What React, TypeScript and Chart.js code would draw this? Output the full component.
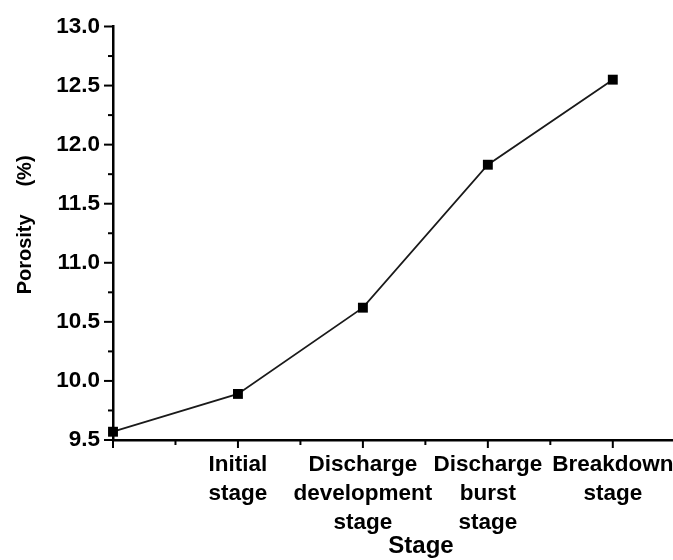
import React, { useEffect, useRef } from "react";
import { Chart, registerables } from "chart.js";

Chart.register(...registerables);

// ---- data ----
const stageIndex = [0, 1, 2, 3, 4];
const stageLabels: string[][] = [
  [""],
  ["Initial", "stage"],
  ["Discharge", "development", "stage"],
  ["Discharge", "burst", "stage"],
  ["Breakdown", "stage"],
];
const porosity = [9.57, 9.89, 10.62, 11.83, 12.55];
const yMin = 9.5;
const yMax = 13.0;
const xMin = 0;
const xMax = 4.93;
const xTitle = "Stage";
const yTitle = "   Porosity     (%)";

const FONT = "'Liberation Sans', Arial, Helvetica, sans-serif";

const near = (v: number, step: number) =>
  Math.abs(v / step - Math.round(v / step)) < 1e-6;

const tickMarks = {
  id: "tickMarks",
  afterDraw(chart: any) {
    const ctx = chart.ctx;
    const xs = chart.scales.x;
    const ys = chart.scales.y;
    ctx.save();
    ctx.strokeStyle = "#000";
    ctx.lineWidth = 2;
    ys.ticks.forEach((t: any) => {
      const p = ys.getPixelForValue(t.value);
      const len = near(t.value, 0.5) ? 9 : 5;
      ctx.beginPath();
      ctx.moveTo(ys.right, p);
      ctx.lineTo(ys.right - len, p);
      ctx.stroke();
    });
    xs.ticks.forEach((t: any) => {
      const p = xs.getPixelForValue(t.value);
      const len = near(t.value, 1) ? 8 : 5;
      ctx.beginPath();
      ctx.moveTo(p, xs.top);
      ctx.lineTo(p, xs.top + len);
      ctx.stroke();
    });
    ctx.restore();
  },
};

export default function App() {
  const ref = useRef<HTMLCanvasElement | null>(null);

  useEffect(() => {
    if (!ref.current) return;
    const chart = new Chart(ref.current, {
      type: "line",
      data: {
        datasets: [
          {
            data: stageIndex.map((s, i) => ({ x: s, y: porosity[i] })),
            borderColor: "#1a1a1a",
            borderWidth: 1.8,
            pointStyle: "rect",
            pointRadius: 7,
            pointBackgroundColor: "#000",
            pointBorderColor: "#000",
            pointBorderWidth: 0,
            tension: 0,
            clip: false as any,
          },
        ],
      },
      options: {
        responsive: false,
        animation: false,
        layout: { padding: { top: 21, right: 0, left: 0, bottom: 0 } },
        plugins: {
          legend: { display: false },
          tooltip: { enabled: false },
        },
        scales: {
          x: {
            type: "linear",
            min: xMin,
            max: xMax,
            afterBuildTicks: (scale: any) => {
              scale.ticks = scale.ticks.filter(
                (t: any) => near(t.value, 0.5) && t.value <= 4 + 1e-6
              );
            },
            afterFit: (scale: any) => {
              scale.height = 120;
            },
            grid: { display: false, drawTicks: false },
            border: { display: true, color: "#000", width: 2.5 },
            ticks: {
              stepSize: 0.5,
              autoSkip: false,
              maxRotation: 0,
              minRotation: 0,
              padding: 10,
              color: "#000",
              font: { family: FONT, size: 22.5, weight: "bold", lineHeight: 1.29 },
              callback: (v: any) => {
                const n = Number(v);
                return near(n, 1) ? stageLabels[Math.round(n)] : "";
              },
            },
            title: {
              display: true,
              text: xTitle,
              color: "#000",
              padding: { top: 0, bottom: 0 },
              font: { family: FONT, size: 24, weight: "bold", lineHeight: 1.15 },
            },
          },
          y: {
            min: yMin,
            max: yMax,
            afterFit: (scale: any) => {
              scale.width = 113;
            },
            grid: { display: false, drawTicks: false },
            border: { display: true, color: "#000", width: 2.5 },
            ticks: {
              stepSize: 0.25,
              autoSkip: false,
              padding: 13,
              color: "#000",
              font: { family: FONT, size: 22.5, weight: "bold" },
              callback: (v: any) => {
                const n = Number(v);
                return near(n, 0.5) ? n.toFixed(1) : "";
              },
            },
            title: {
              display: true,
              text: yTitle,
              color: "#000",
              padding: { top: 13, bottom: 0 },
              font: { family: FONT, size: 20, weight: "bold", lineHeight: 1.2 },
            },
          },
        },
      },
      plugins: [tickMarks],
    });
    return () => chart.destroy();
  }, []);

  return (
    <div
      style={{
        position: "fixed",
        left: 0,
        top: 0,
        width: 673,
        height: 560,
        overflow: "hidden",
        background: "#fff",
      }}
    >
      <canvas ref={ref} width={736} height={560} style={{ display: "block" }} />
    </div>
  );
}
